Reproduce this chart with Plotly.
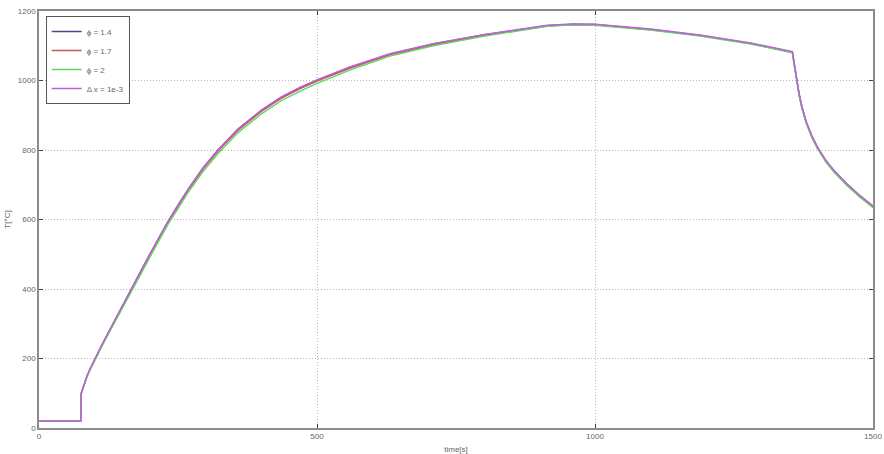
import plotly.graph_objects as go

time_s = [0, 75, 76, 80, 86, 92, 97, 104, 112, 122, 134, 148, 164, 182, 200, 216, 232, 250,
          270, 295, 322, 358, 400, 435, 469, 500, 559, 631, 709, 799, 914, 960, 1000, 1100,
          1189, 1280, 1355, 1357, 1360, 1363, 1367, 1372, 1380, 1390, 1400, 1415, 1430, 1453,
          1475, 1500]

T_phi14 = [20, 20, 100, 122, 148, 170, 187, 210, 235, 266, 303, 346, 395, 449, 502, 548, 594, 641,
           691, 748, 800, 860, 914, 951, 979, 1001, 1038, 1076, 1105, 1131, 1158, 1162, 1161, 1147,
           1130, 1107, 1082, 1062, 1030, 1000, 962, 925, 880, 840, 808, 770, 740, 702, 670, 638]
T_phi17 = [20, 20, 100, 121, 147, 169, 186, 209, 234, 265, 302, 344, 393, 447, 500, 546, 592, 638,
           688, 745, 797, 857, 911, 948, 976, 998, 1035, 1074, 1103, 1130, 1157, 1161, 1160, 1146,
           1129, 1106, 1081, 1060, 1028, 998, 960, 923, 878, 838, 806, 768, 738, 700, 668, 636]
T_phi2 = [20, 20, 99, 120, 146, 168, 185, 207, 232, 262, 298, 340, 388, 442, 494, 540, 586, 632,
          682, 738, 790, 850, 904, 941, 969, 992, 1030, 1070, 1100, 1127, 1156, 1160, 1159, 1145,
          1128, 1105, 1080, 1057, 1025, 995, 957, 920, 876, 836, 804, 766, 736, 698, 666, 634]
T_dx = [20, 20, 100, 122, 148, 171, 188, 211, 236, 267, 304, 347, 396, 450, 503, 549, 595, 642,
        692, 749, 801, 861, 915, 952, 980, 1002, 1039, 1077, 1106, 1132, 1159, 1163, 1162, 1148,
        1131, 1108, 1083, 1063, 1031, 1001, 963, 926, 881, 841, 809, 771, 741, 703, 671, 639]

series_names = ["ϕ = 1.4", "ϕ = 1.7", "ϕ = 2", "Δ x = 1e-3"]
series_values = [T_phi14, T_phi17, T_phi2, T_dx]
series_colors = ["#4a4a90", "#c85a5a", "#5ed65e", "#c060e0"]

x_ticks = [0, 500, 1000, 1500]
y_ticks = [0, 200, 400, 600, 800, 1000, 1200]

fig = go.Figure()
for name, vals, col in zip(series_names, series_values, series_colors):
    fig.add_trace(go.Scatter(x=time_s, y=vals, mode="lines", name=name,
                             line=dict(color=col, width=1.4)))

axis_common = dict(
    showline=True, linecolor="#8c8c8c", linewidth=1.5, mirror="ticks",
    ticks="inside", ticklen=4, tickcolor="#444444",
    showgrid=True, gridcolor="#b8b8b8", griddash="1px,2px", gridwidth=1,
    zeroline=False, automargin=False,
    tickfont=dict(family="Liberation Sans", size=8, color="#666666"),
)

fig.update_layout(
    width=884, height=454,
    margin=dict(l=39, r=11, t=11, b=26),
    paper_bgcolor="white", plot_bgcolor="white",
    showlegend=True,
    legend=dict(x=0.008, y=0.988, xanchor="left", yanchor="top",
                bgcolor="white", bordercolor="#555555", borderwidth=1,
                font=dict(family="Liberation Sans", size=8, color="#666666"),
                tracegroupgap=0, itemwidth=30),
    xaxis=dict(range=[0, 1500], tickvals=x_ticks,
               title=dict(text="time[s]", standoff=6,
                          font=dict(family="Liberation Sans", size=8, color="#666666")),
               **axis_common),
    yaxis=dict(range=[0, 1200], tickvals=y_ticks,
               title=dict(text="T[°C]", standoff=6,
                          font=dict(family="Liberation Sans", size=8, color="#666666")),
               **axis_common),
)

fig.write_html("out.html")
